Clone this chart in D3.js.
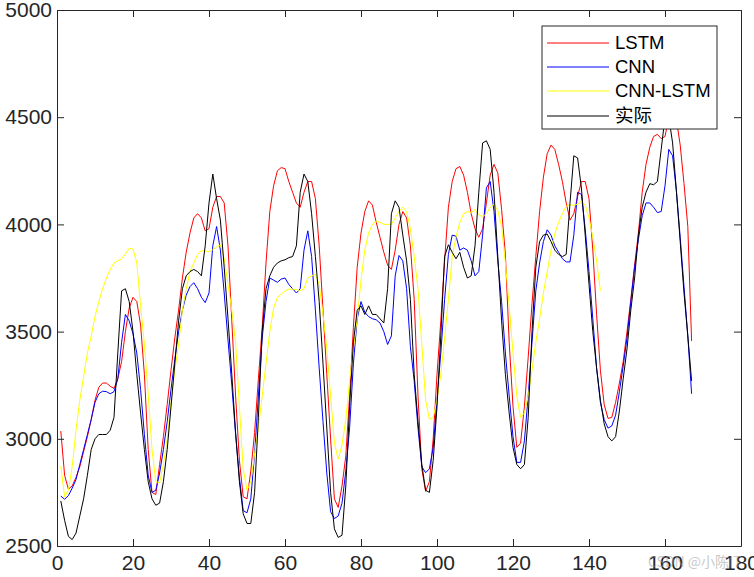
<!DOCTYPE html>
<html>
<head>
<meta charset="utf-8">
<script src="https://cdn.jsdelivr.net/npm/d3@7/dist/d3.min.js"></script>
<style>
  html, body { margin: 0; padding: 0; background: #fff; }
  svg { display: block; }
  text { font-family: "Liberation Sans", Arial, sans-serif; }
</style>
</head>
<body>
<svg id="chart" width="754" height="577"></svg>
<script>
// ---------------- data ----------------
const seriesNames = ["LSTM", "CNN", "CNN-LSTM", "实际"];
const xTicks = [0, 20, 40, 60, 80, 100, 120, 140, 160, 180];
const yTicks = [2500, 3000, 3500, 4000, 4500, 5000];

const lstm = [3036,2830,2765,2780,2820,2870,2940,3010,3090,3180,3240,3260,3260,3245,3235,3280,3360,3500,3610,3660,
  3640,3530,3300,2950,2750,2740,2880,3010,3160,3320,3470,3600,3750,3870,3960,4030,4050,4030,3970,3980,
  4080,4130,4130,4100,3900,3550,3200,2900,2730,2720,2850,3030,3280,3520,3820,4060,4180,4250,4265,4260,
  4200,4150,4100,4080,4150,4200,4200,4120,3900,3600,3300,3000,2720,2680,2780,2920,3200,3520,3800,3960,
  4060,4110,4090,4010,3940,3870,3810,3790,3880,4000,4060,4030,3900,3650,3200,2860,2755,2800,3000,3300,
  3550,3830,4080,4200,4260,4270,4230,4150,4050,3980,3940,3980,4100,4230,4280,4240,4070,3860,3450,3150,
  2960,2980,3150,3380,3630,3850,4060,4220,4330,4370,4350,4280,4200,4100,4020,4050,4130,4200,4200,4120,
  3880,3580,3320,3160,3095,3100,3170,3260,3360,3500,3650,3810,3960,4150,4280,4360,4410,4420,4400,4410,
  4500,4560,4490,4370,4190,3990,3456];

const cnn = [2733,2718,2735,2770,2810,2880,2950,3020,3090,3170,3210,3222,3220,3210,3220,3280,3450,3580,3550,3490,
  3400,3230,3020,2830,2750,2760,2840,2950,3080,3230,3370,3500,3600,3670,3710,3728,3700,3660,3635,3680,
  3900,3990,3880,3680,3460,3250,3020,2820,2665,2655,2720,2930,3200,3470,3640,3750,3740,3730,3745,3750,
  3720,3700,3680,3700,3880,3970,3850,3600,3330,3080,2840,2660,2628,2640,2700,2850,3050,3350,3560,3640,
  3590,3570,3560,3555,3540,3500,3440,3480,3760,3855,3830,3700,3430,3270,3050,2870,2842,2860,2960,3180,
  3400,3650,3860,3950,3945,3880,3890,3880,3830,3760,3780,3950,4170,4200,4060,3830,3640,3400,3200,3010,
  2890,2890,2990,3200,3450,3690,3820,3920,3975,3950,3900,3870,3840,3825,3825,3950,4150,4140,3980,3780,
  3560,3330,3170,3090,3050,3060,3110,3220,3340,3470,3640,3800,3930,4040,4100,4100,4080,4055,4060,4180,
  4350,4320,4156,3940,3710,3480,3210];

const cnnLstm = [2873,2730,2760,2870,3040,3180,3290,3400,3480,3570,3640,3700,3750,3790,3820,3830,3840,3862,3888,3885,
  3820,3620,3440,3210,2950,2800,2795,2880,3000,3170,3320,3440,3600,3700,3780,3820,3860,3878,3875,3873,
  3882,3895,3905,3840,3720,3600,3450,3150,2860,2760,2800,2930,3050,3200,3350,3500,3610,3660,3675,3690,
  3698,3698,3696,3690,3700,3750,3760,3767,3720,3580,3420,3200,2980,2905,2970,3090,3270,3420,3560,3740,
  3880,3960,4000,4015,4010,4000,4000,4000,4030,4060,4080,4060,3980,3850,3700,3440,3180,3090,3100,3180,
  3300,3470,3650,3850,3940,4010,4050,4060,4055,4070,4045,4035,4050,4080,4094,4065,3990,3820,3620,3400,
  3200,3100,3120,3200,3320,3450,3560,3680,3780,3880,3955,4010,4050,4085,4092,4088,4095,4108,4090,4030,
  3940,3830,3690];

const actual = [2710,2620,2545,2530,2560,2640,2720,2830,2950,3000,3020,3020,3020,3040,3100,3400,3690,3700,3640,3500,
  3300,3120,2950,2800,2720,2690,2700,2800,2950,3150,3350,3550,3700,3760,3780,3790,3780,3760,3900,4100,
  4235,4120,4020,3800,3560,3300,3030,2800,2650,2605,2605,2750,3100,3500,3700,3760,3800,3820,3830,3835,
  3845,3850,3900,4150,4235,4200,4050,3850,3640,3350,3050,2750,2580,2540,2550,2780,3150,3450,3600,3620,
  3580,3620,3580,3580,3560,3540,3700,4050,4110,4080,3950,3830,3650,3300,3080,2880,2760,2750,2900,3150,
  3480,3850,3905,3870,3840,3870,3800,3750,3760,3900,4150,4380,4390,4350,4150,3850,3550,3300,3120,2960,
  2880,2860,2880,3100,3500,3800,3920,3950,3955,3920,3880,3860,3850,3860,4100,4320,4310,4170,3950,3720,
  3500,3330,3180,3070,3010,2990,3010,3130,3280,3420,3600,3750,3950,4080,4150,4190,4185,4200,4350,4500,
  4500,4380,4156,3920,3680,3480,3270];

const seriesValues = [lstm, cnn, cnnLstm, actual];
const seriesColors = ["#ff0000", "#0000ff", "#ffff00", "#000000"];

// ---------------- layout ----------------
const svg = d3.select("#chart");
const plotL = 57, plotR = 741, plotT = 10, plotB = 546;
const axisColor = "#262626";

const x = d3.scaleLinear().domain([0, 180]).range([plotL, plotR]);
const y = d3.scaleLinear().domain([2500, 5000]).range([plotB, plotT]);

svg.append("defs").append("clipPath").attr("id", "plotclip")
  .append("rect").attr("x", plotL).attr("y", plotT).attr("width", plotR - plotL).attr("height", plotB - plotT);

const plot = svg.append("g").attr("clip-path", "url(#plotclip)");
const line = d3.line().x((d, i) => x(i + 1)).y(d => y(d));

seriesValues.forEach((vals, k) => {
  plot.append("path")
    .datum(vals)
    .attr("fill", "none")
    .attr("stroke", seriesColors[k])
    .attr("stroke-width", 1)
    .attr("stroke-linejoin", "round")
    .attr("d", line);
});

// axes (MATLAB-like box, inward ticks)
const tickLen = 7;
const fontSize = 21;
const gx = svg.append("g").attr("transform", `translate(0,${plotB})`)
  .call(d3.axisBottom(x).tickValues(xTicks).tickSizeInner(-tickLen).tickSizeOuter(0).tickPadding(9).tickFormat(d3.format("d")));
const gxTop = svg.append("g").attr("transform", `translate(0,${plotT})`)
  .call(d3.axisTop(x).tickValues(xTicks).tickSizeInner(-tickLen).tickSizeOuter(0).tickFormat(""));
const gy = svg.append("g").attr("transform", `translate(${plotL},0)`)
  .call(d3.axisLeft(y).tickValues(yTicks).tickSizeInner(-tickLen).tickSizeOuter(0).tickPadding(5).tickFormat(d3.format("d")));
const gyRight = svg.append("g").attr("transform", `translate(${plotR},0)`)
  .call(d3.axisRight(y).tickValues(yTicks).tickSizeInner(-tickLen).tickSizeOuter(0).tickFormat(""));

[gx, gxTop, gy, gyRight].forEach(g => {
  g.select(".domain").attr("stroke", axisColor);
  g.selectAll(".tick line").attr("stroke", axisColor);
  g.selectAll(".tick text").attr("fill", axisColor)
    .style("font-family", "'Liberation Sans', Arial, sans-serif")
    .style("font-size", fontSize + "px");
});

// legend
const lg = svg.append("g");
const lgX = 542, lgY = 26, lgW = 175, lgH = 103;
lg.append("rect").attr("x", lgX).attr("y", lgY).attr("width", lgW).attr("height", lgH)
  .attr("fill", "#fff").attr("stroke", axisColor).attr("stroke-width", 1);
const rowY = [43, 67, 91, 116];
seriesNames.forEach((name, k) => {
  lg.append("line").attr("x1", 547).attr("x2", 609).attr("y1", rowY[k]).attr("y2", rowY[k])
    .attr("stroke", seriesColors[k]).attr("stroke-width", 1);
  lg.append("text").attr("x", 615).attr("y", rowY[k]).attr("dy", "0.35em")
    .attr("fill", "#000").style("font-size", "18.5px")
    .style("font-family", k === 3 ? "'Noto Sans CJK SC', sans-serif" : "'Liberation Sans', Arial, sans-serif")
    .text(name);
});

// watermark
svg.append("text").attr("x", 648).attr("y", 567)
  .attr("fill", "#9a9a9a").attr("fill-opacity", 0.55)
  .style("font-size", "14px").style("font-family", "'Noto Sans CJK SC', sans-serif")
  .text("CSDN @小陈IT");
</script>
</body>
</html>
